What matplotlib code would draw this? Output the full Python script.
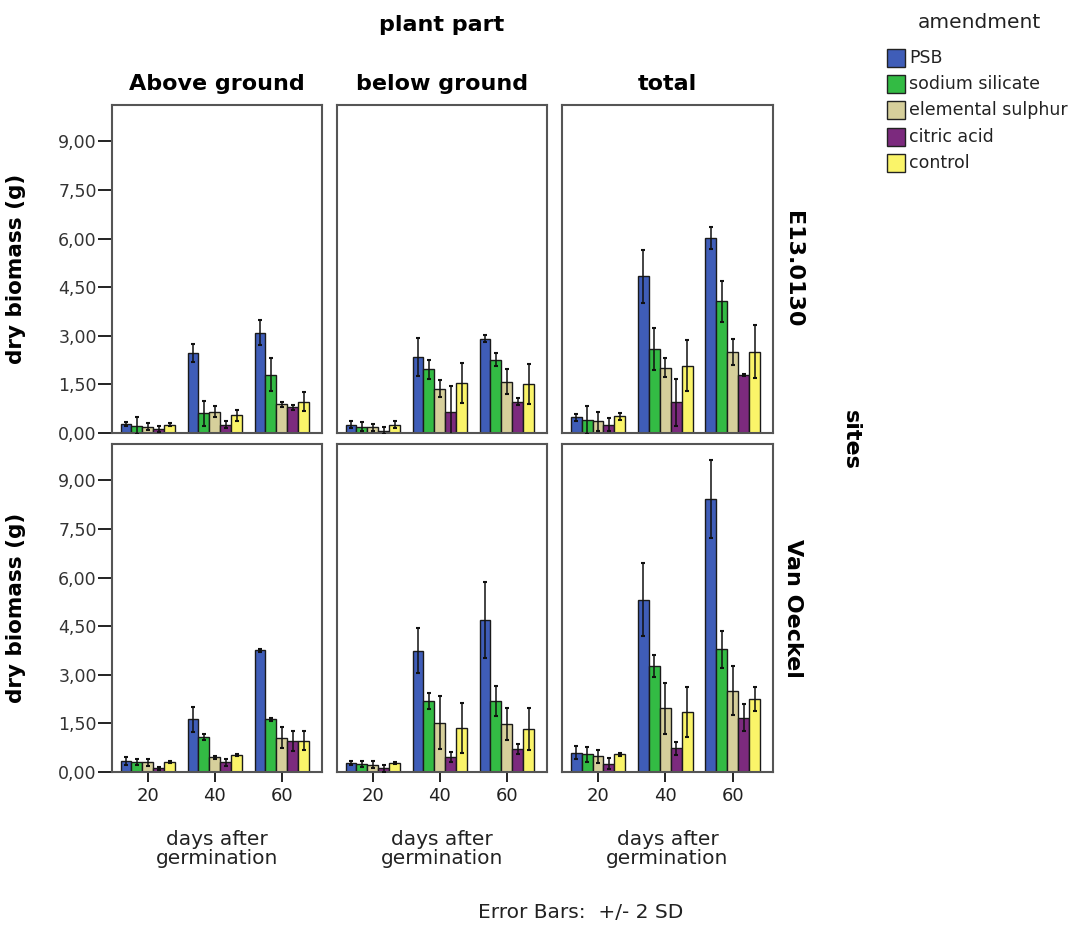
import numpy as np
import matplotlib
matplotlib.use("Agg")
import matplotlib.pyplot as plt
from matplotlib.patches import Rectangle

plt.rcParams['font.family'] = ['DejaVu Sans']

days = ["20", "40", "60"]
amendments = ["PSB", "sodium silicate", "elemental sulphur", "citric acid", "control"]
colors = ["#3F5DB8", "#33BB44", "#D6CF9B", "#7C2A7E", "#FAF469"]
plant_parts = ["Above ground", "below ground", "total"]
sites = ["E13.0130", "Van Oeckel"]
yticks = [0.0, 1.5, 3.0, 4.5, 6.0, 7.5, 9.0]

# rows = amendment, cols = day (20, 40, 60)
e13_above = [[0.28, 2.47, 3.10], [0.23, 0.61, 1.80], [0.20, 0.66, 0.89], [0.12, 0.26, 0.79], [0.26, 0.54, 0.97]]
e13_above_err = [[0.05, 0.29, 0.39], [0.25, 0.39, 0.50], [0.10, 0.18, 0.08], [0.10, 0.10, 0.08], [0.04, 0.18, 0.28]]
e13_below = [[0.26, 2.35, 2.91], [0.20, 1.96, 2.26], [0.17, 1.37, 1.58], [0.07, 0.66, 0.97], [0.26, 1.54, 1.51]]
e13_below_err = [[0.10, 0.58, 0.10], [0.15, 0.30, 0.20], [0.10, 0.25, 0.38], [0.10, 0.80, 0.10], [0.10, 0.62, 0.62]]
e13_total = [[0.48, 4.83, 6.01], [0.41, 2.59, 4.06], [0.36, 2.02, 2.51], [0.25, 0.95, 1.79], [0.51, 2.08, 2.51]]
e13_total_err = [[0.10, 0.82, 0.34], [0.43, 0.65, 0.64], [0.30, 0.30, 0.40], [0.20, 0.73, 0.02], [0.10, 0.79, 0.82]]

vo_above = [[0.35, 1.62, 3.76], [0.31, 1.08, 1.62], [0.30, 0.45, 1.06], [0.11, 0.30, 0.96], [0.31, 0.52, 0.96]]
vo_above_err = [[0.12, 0.40, 0.05], [0.10, 0.10, 0.05], [0.10, 0.05, 0.32], [0.05, 0.10, 0.31], [0.03, 0.03, 0.29]]
vo_below = [[0.29, 3.74, 4.69], [0.25, 2.20, 2.20], [0.23, 1.52, 1.47], [0.11, 0.47, 0.71], [0.27, 1.37, 1.32]]
vo_below_err = [[0.06, 0.69, 1.17], [0.10, 0.25, 0.46], [0.10, 0.81, 0.49], [0.10, 0.15, 0.15], [0.03, 0.77, 0.65]]
vo_total = [[0.60, 5.32, 8.42], [0.54, 3.27, 3.79], [0.49, 1.96, 2.51], [0.25, 0.73, 1.68], [0.54, 1.84, 2.25]]
vo_total_err = [[0.20, 1.13, 1.20], [0.22, 0.34, 0.57], [0.20, 0.80, 0.76], [0.17, 0.20, 0.41], [0.04, 0.77, 0.36]]

means = [[e13_above, e13_below, e13_total], [vo_above, vo_below, vo_total]]
errs = [[e13_above_err, e13_below_err, e13_total_err], [vo_above_err, vo_below_err, vo_total_err]]

W, H = 1074, 932
fig = plt.figure(figsize=(W / 100, H / 100), dpi=100)

col_px = [(112, 322), (337, 547), (562, 773)]
row_px = [(105, 433), (444, 772)]

x = np.arange(len(days))
bw = 0.163
frame_col = "#555555"

for r in range(2):
    for c in range(3):
        x0, x1 = col_px[c]
        y0, y1 = row_px[r]
        ax = fig.add_axes([x0 / W, 1 - y1 / H, (x1 - x0) / W, (y1 - y0) / H])
        m = np.array(means[r][c])
        e = np.array(errs[r][c])
        for i in range(len(amendments)):
            pos = x + (i - 2) * bw
            ax.bar(pos, m[i], width=bw, color=colors[i], edgecolor="#1a1a1a", linewidth=1.0, zorder=2)
            ax.errorbar(pos, m[i], yerr=e[i], fmt="none", ecolor="#111111", elinewidth=1.1,
                        capsize=1.2, capthick=1.5, zorder=3)
        ax.set_xlim(-0.535, 2.60)
        ax.set_ylim(0, 10.12)
        ax.set_yticks(yticks)
        for s in ax.spines.values():
            s.set_color(frame_col)
            s.set_linewidth(1.5)
        if c == 0:
            ax.set_yticklabels([f"{v:.2f}".replace(".", ",") for v in yticks], fontsize=12.5,
                               color="#333333")
            ax.tick_params(axis="y", length=10, width=1.4, color="#222222", pad=1)
            ax.set_ylabel("dry biomass (g)", fontsize=15.5, fontweight="bold")
            ax.yaxis.set_label_coords((26 - 112) / (x1 - x0), 0.5)
        else:
            ax.tick_params(axis="y", left=False, labelleft=False)
        ax.set_xticks(x)
        if r == 1:
            ax.set_xticklabels(days, fontsize=13, color="#222222")
            ax.tick_params(axis="x", length=7, width=1.4, color="#222222", pad=4)
            ax.set_xlabel("days after\ngermination", fontsize=14.5, linespacing=1.0, color="#222222")
            ax.xaxis.set_label_coords(0.5, -(830 - 772) / (y1 - y0))
            ax.xaxis.label.set_va("top")
        else:
            ax.tick_params(axis="x", bottom=False, labelbottom=False)
        if r == 0:
            ax.set_title(plant_parts[c], fontsize=16, fontweight="bold", pad=11)
        if c == 2:
            ax.text(793 / W, 1 - ((y0 + y1) / 2) / H, sites[r], transform=fig.transFigure,
                    rotation=270, ha="center", va="center", fontsize=16, fontweight="bold")

fig.text(442 / W, 1 - 25 / H, "plant part", ha="center", va="center", fontsize=16, fontweight="bold")
fig.text(851 / W, 1 - 440 / H, "sites", ha="center", va="center", rotation=270, fontsize=16, fontweight="bold")
fig.text(581 / W, 1 - 913 / H, "Error Bars:  +/- 2 SD", ha="center", va="center", fontsize=14.5,
         color="#222222")

# legend (drawn manually in figure pixels)
fig.text(979 / W, 1 - 22 / H, "amendment", ha="center", va="center", fontsize=14.5, color="#222222")
leg_y = [58, 84, 110, 137, 163]
for col, lab, yy in zip(colors, amendments, leg_y):
    fig.patches.append(Rectangle((887 / W, 1 - (yy + 9) / H), 18 / W, 18 / H,
                                 transform=fig.transFigure, facecolor=col,
                                 edgecolor="#222222", linewidth=1.0))
    fig.text(909 / W, 1 - yy / H, lab, ha="left", va="center", fontsize=12.5, color="#222222")

fig.savefig("out.png", dpi=100)
